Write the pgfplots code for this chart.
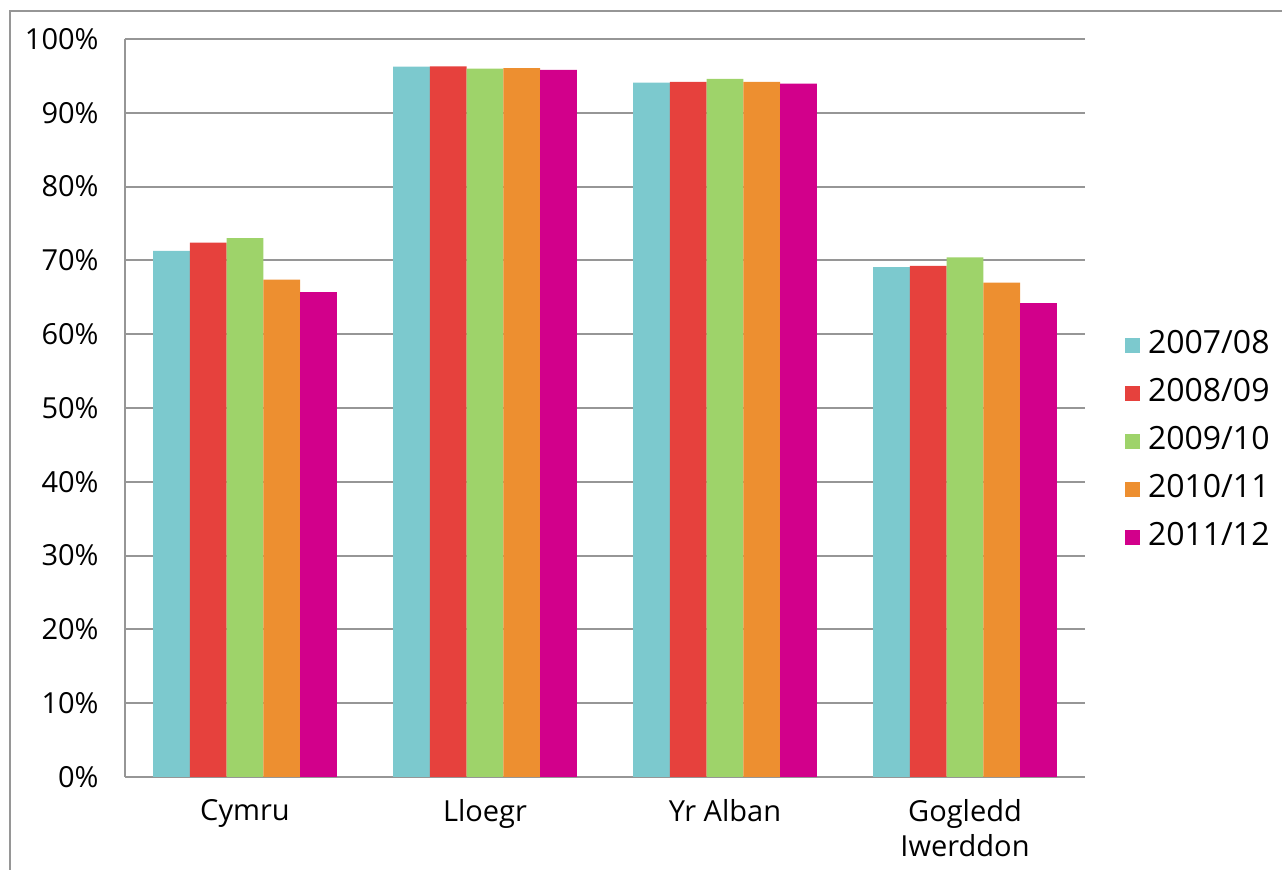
\documentclass[border=0pt]{standalone}
\usepackage{pgfplots}
\pgfplotsset{compat=1.18}
\usepackage{fontspec}
\setmainfont{Open Sans}

\definecolor{c1}{HTML}{7CC9CE}
\definecolor{c2}{HTML}{E6413D}
\definecolor{c3}{HTML}{9ED36A}
\definecolor{c4}{HTML}{ED8F30}
\definecolor{c5}{HTML}{D2008B}
\definecolor{gridgray}{RGB}{150,150,150}

\begin{document}
\begin{tikzpicture}
\useasboundingbox (0,0) rectangle (641pt,435pt);
% outer chart frame (only left and top edges are visible)
\draw[gridgray, line width=1pt] (5pt,0) -- (5pt,429.7pt) -- (641pt,429.7pt);

\begin{axis}[
    at={(62.5pt,46.5pt)}, anchor=south west,
    scale only axis,
    width=480pt, height=369pt,
    ybar=0pt,
    bar width=0.1533,
    xmin=-0.5, xmax=3.5,
    ymin=0, ymax=100,
    xtick={0,1,2,3},
    xticklabels={Cymru,Lloegr,Yr Alban,{Gogledd\\Iwerddon}},
    ytick={0,10,...,100},
    yticklabels={0\%,10\%,20\%,30\%,40\%,50\%,60\%,70\%,80\%,90\%,100\%},
    axis x line*=bottom,
    axis y line*=left,
    axis line style={gridgray, line width=1pt, -},
    ymajorgrids,
    major grid style={gridgray, line width=1pt},
    major tick length=0pt,
    tick style={draw=none},
    ticklabel style={font=\fontsize{14.5}{17.5}\selectfont, text=black},
    yticklabel style={inner sep=0pt, xshift=-13pt},
    xticklabel style={align=center, inner sep=0pt, yshift=-11pt},
    legend cell align=left,
    legend style={at={(1,0.4546)}, anchor=west, xshift=20pt, draw=none, fill=none,
        inner sep=0pt, outer sep=0pt,
        font=\fontsize{16}{19}\selectfont,
        row sep=9.5pt,
        nodes={inner sep=0pt, text height=11.5pt, text depth=3pt}},
    legend image code/.code={\fill[#1] (0pt,-3.75pt) rectangle (7.5pt,3.75pt);
        \path (11.5pt,0pt);},
]
\addplot[fill=c1, draw=none] coordinates {(0,71.3) (1,96.25) (2,94.1) (3,69.1)};
\addplot[fill=c2, draw=none] coordinates {(0,72.4) (1,96.3) (2,94.2) (3,69.25)};
\addplot[fill=c3, draw=none] coordinates {(0,73.0) (1,96.0) (2,94.6) (3,70.4)};
\addplot[fill=c4, draw=none] coordinates {(0,67.4) (1,96.05) (2,94.2) (3,67.0)};
\addplot[fill=c5, draw=none] coordinates {(0,65.7) (1,95.8) (2,93.95) (3,64.2)};
\legend{2007/08,2008/09,2009/10,2010/11,2011/12}
\end{axis}
\end{tikzpicture}
\end{document}
